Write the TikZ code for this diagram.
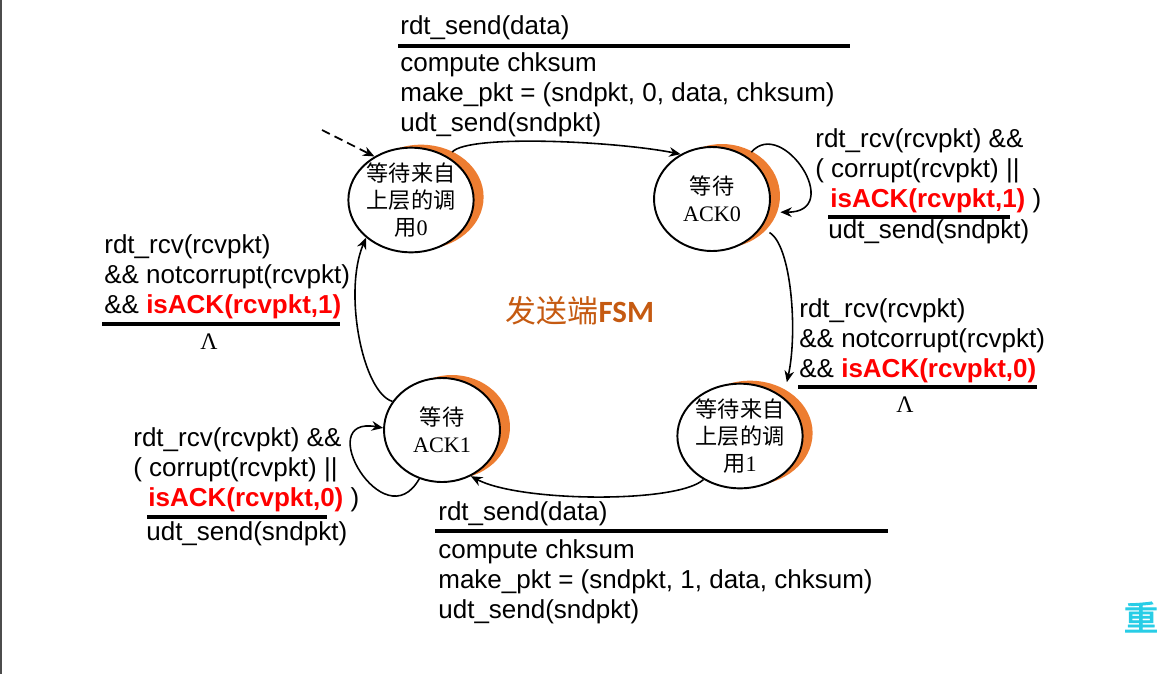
\documentclass[tikz,border=0pt]{standalone}
\usepackage{fontspec}
\setmainfont{Liberation Sans}
\newfontfamily\cjk{Noto Sans CJK SC}
\newfontfamily\cjkbold[FakeBold=2.5]{Noto Sans CJK SC}
\newfontfamily\serifa{Liberation Serif}
\newfontfamily\calib{Carlito}
\usetikzlibrary{automata, arrows.meta, calc, shapes.geometric, shadows}
\definecolor{crescent}{RGB}{237,125,49}
\definecolor{fsmtitle}{RGB}{197,90,17}
\definecolor{ackred}{RGB}{255,0,0}
\definecolor{reload}{RGB}{40,205,230}
\newcommand{\redack}[1]{\textcolor{ackred}{\bfseries #1}}
\newcommand{\tnr}[1]{{\serifa\fontsize{12.6}{15}\selectfont #1}}
\tikzset{
    every state/.style={ % sender states, orange crescent on the right
        shape=ellipse,
        line width=1.1pt,
        fill=white,
        minimum width=2.32cm, minimum height=2.08cm,
        inner sep=0pt,
        align=center,
        font=\cjk\fontsize{12.6}{15.2}\selectfont,
        general shadow={fill=crescent, shadow xshift=0.2cm, shadow yshift=0.06cm}
    },
    trans/.style={->, >={Stealth[length=6.5pt,width=5.5pt]}, line width=0.9pt},
    lbl/.style={anchor=north west, inner sep=0pt, align=left, font=\fontsize{14.8}{17.07}\selectfont},
    bar/.style={line width=0.09cm},
    lam/.style={anchor=base, inner sep=0pt, font=\serifa\fontsize{13.5}{15}\selectfont}
}
\begin{document}
\begin{tikzpicture}[x=0.02cm, y=-0.02cm]
    \useasboundingbox (0,0) rectangle (1163,674);
    \draw[black!70, line width=0.05cm] (1,0) -- (1,674);

    % states
    \node[state] (s0) at (411,200) {等待来自\\上层的调\\用\tnr{0}};
    \node[state] (s1) at (712,199) {等待\\\tnr{ACK0}};
    \node[state] (s2) at (740,436) {等待来自\\上层的调\\用\tnr{1}};
    \node[state] (s3) at (442,430) {等待\\\tnr{ACK1}};
    \node[font=\cjk\fontsize{17.6}{20}\selectfont, text=fsmtitle] (title) at (580,311) {发送端\calib\bfseries FSM};

    % transitions
    \coordinate (init) at (322,130);
    \draw[trans, line width=1pt, dash pattern=on 5pt off 3pt] (init) -- (s0.130);
    \draw[trans] ($(s0.55)+(9,-2)$) .. controls +(16,-18) and +(-65,-13) .. (s1.125);
    \draw[trans] ($(s1.55)+(8,-2)$) .. controls +(31,-36) and +(65,0) .. ($(s1.-12)+(11,1)$);
    \draw[trans] ($(s1.-35)+(11,1)$) .. controls +(22,13) and +(11,-50) .. ($(s2.45)+(6,-13)$);
    \draw[trans] (s2.-130) .. controls +(-26,24) and +(49,26) .. (s3.-58);
    \draw[trans] (s3.-115) .. controls +(-35,62) and +(-72,-13) .. (s3.178);
    \draw[trans] (s3.150) .. controls +(-30,-9) and +(-23,54) .. (s0.-140);

    % labels
    \node[lbl] (evt01) at (400,13) {\strut rdt\_send(data)};
    \draw[bar] (398,46) -- (850,46);
    \node[lbl] (act01) at (400,50) {\strut compute chksum\\make\_pkt = (sndpkt, 0, data, chksum)\\udt\_send(sndpkt)};

    \node[lbl] (loop01) at (815,126) {\strut rdt\_rcv(rcvpkt) \&\&\\( corrupt(rcvpkt) ||\\\hspace*{0.3cm}\redack{isACK(rcvpkt,1)} )};
    \draw[bar] (828,217) -- (1010,217);
    \node[lbl] (act02) at (828,217) {\strut udt\_send(sndpkt)};

    \node[lbl] (ack01) at (104,232) {\strut rdt\_rcv(rcvpkt)\\\&\& notcorrupt(rcvpkt)\\\&\& \redack{isACK(rcvpkt,1)}};
    \draw[bar] (102,324) -- (340,324);
    \node[lam] (lam01) at (209,349) {Λ};

    \node[lbl] (ack00) at (799,296) {\strut rdt\_rcv(rcvpkt)\\\&\& notcorrupt(rcvpkt)\\\&\& \redack{isACK(rcvpkt,0)}};
    \draw[bar] (798,387) -- (1037,387);
    \node[lam] (lam00) at (905,412) {Λ};

    \node[lbl] (loop11) at (133,425) {\strut rdt\_rcv(rcvpkt) \&\&\\( corrupt(rcvpkt) ||\\\hspace*{0.3cm}\redack{isACK(rcvpkt,0)} )};
    \draw[bar] (147,517) -- (327,517);
    \node[lbl] (act12) at (146,519) {\strut udt\_send(sndpkt)};

    \node[lbl] (evt11) at (438,499) {\strut rdt\_send(data)};
    \draw[bar] (435,531) -- (888,531);
    \node[lbl] (act11) at (438,537) {\strut compute chksum\\make\_pkt = (sndpkt, 1, data, chksum)\\udt\_send(sndpkt)};

    \node[text=reload, font=\cjkbold\fontsize{19.5}{21}\selectfont] (chong) at (1141,617) {重};
\end{tikzpicture}
\end{document}
